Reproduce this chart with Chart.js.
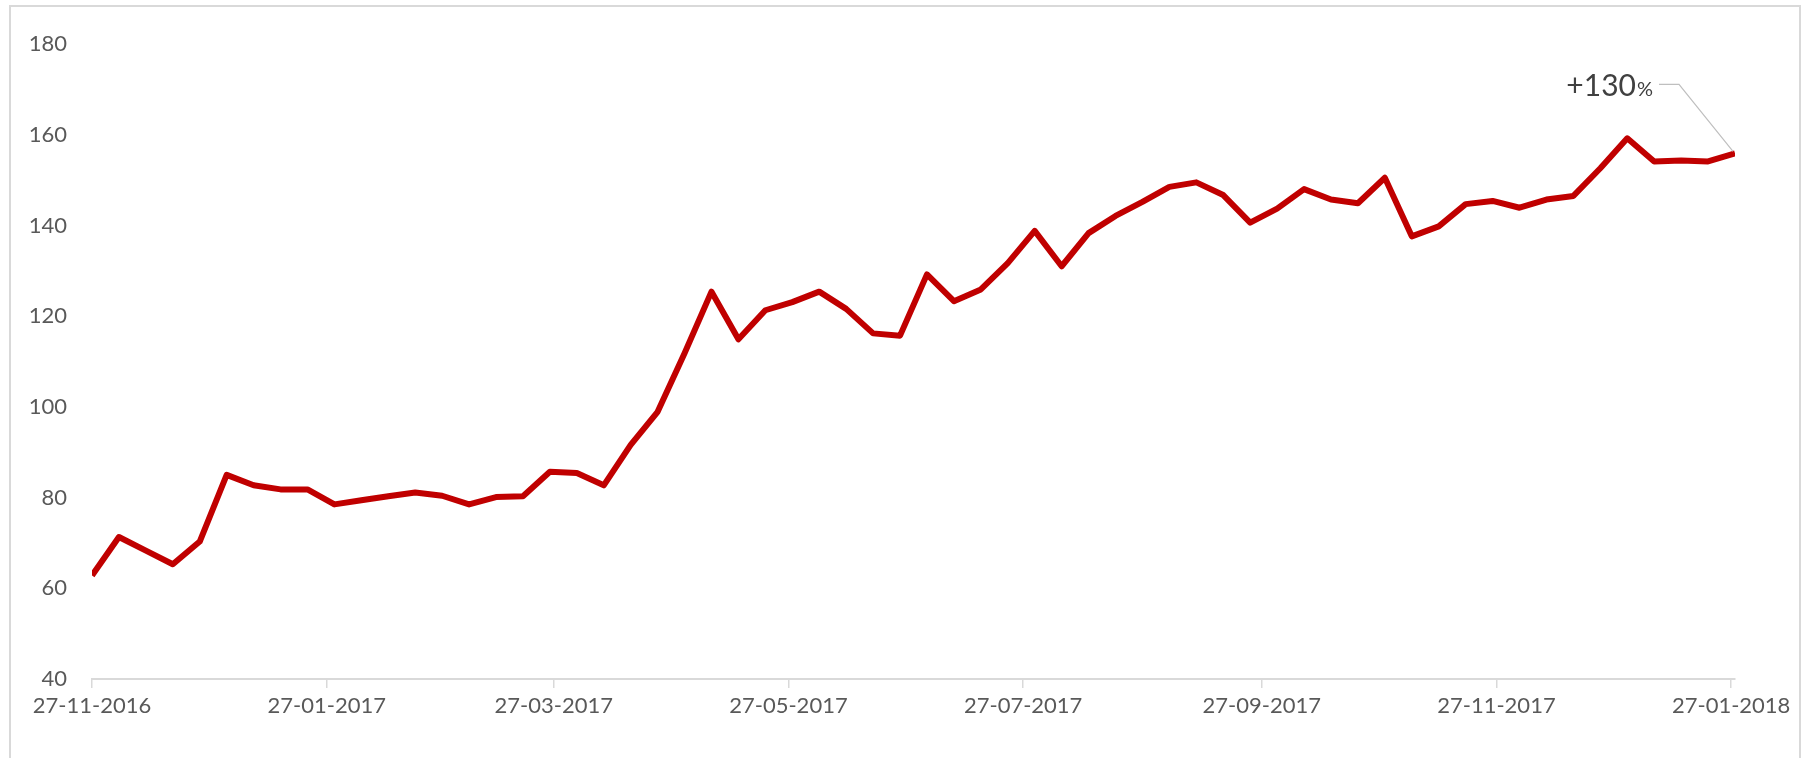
<!DOCTYPE html>
<html>
<head>
<meta charset="utf-8">
<script src="https://cdn.jsdelivr.net/npm/chart.js@4.4.1/dist/chart.umd.min.js"></script>
<style>
html, body { margin: 0; padding: 0; background: #fff; }
#wrap { position: relative; width: 1808px; height: 758px; overflow: hidden; }
#frame { position: absolute; left: 9px; top: 5px; width: 1792px; height: 800px; border: 2px solid #d9d9d9; box-sizing: border-box; }
#chartbox { position: absolute; left: 0; top: 0; width: 1808px; height: 758px; }
</style>
</head>
<body>
<div id="wrap">
  <div id="frame"></div>
  <div id="chartbox"><canvas id="linechart"></canvas></div>
</div>
<script>
// weekly observations
var dates = ['27-11-2016', '04-12-2016', '11-12-2016', '18-12-2016', '25-12-2016', '01-01-2017', '08-01-2017', '15-01-2017',
  '22-01-2017', '29-01-2017', '05-02-2017', '12-02-2017', '19-02-2017', '26-02-2017', '05-03-2017', '12-03-2017',
  '19-03-2017', '26-03-2017', '02-04-2017', '09-04-2017', '16-04-2017', '23-04-2017', '30-04-2017', '07-05-2017',
  '14-05-2017', '21-05-2017', '28-05-2017', '04-06-2017', '11-06-2017', '18-06-2017', '25-06-2017', '02-07-2017',
  '09-07-2017', '16-07-2017', '23-07-2017', '30-07-2017', '06-08-2017', '13-08-2017', '20-08-2017', '27-08-2017',
  '03-09-2017', '10-09-2017', '17-09-2017', '24-09-2017', '01-10-2017', '08-10-2017', '15-10-2017', '22-10-2017',
  '29-10-2017', '05-11-2017', '12-11-2017', '19-11-2017', '26-11-2017', '03-12-2017', '10-12-2017', '17-12-2017',
  '24-12-2017', '31-12-2017', '07-01-2018', '14-01-2018', '21-01-2018', '28-01-2018'];

var values = [62.8, 71.3, 68.3, 65.3, 70.3, 85.0, 82.7, 81.8, 81.8, 78.5,
  79.4, 80.3, 81.1, 80.4, 78.5, 80.1, 80.3, 85.7, 85.4, 82.7,
  91.6, 98.9, 111.8, 125.4, 114.9, 121.3, 123.1, 125.4, 121.6, 116.2,
  115.7, 129.2, 123.3, 125.9, 131.7, 138.8, 131.0, 138.3, 142.1, 145.2,
  148.5, 149.5, 146.7, 140.6, 143.7, 148.0, 145.7, 144.9, 150.5, 137.6,
  139.8, 144.7, 145.4, 143.9, 145.7, 146.5, 152.6, 159.2, 154.1, 154.3,
  154.1, 155.9];

var xTickLabels = ['27-11-2016', '27-01-2017', '27-03-2017', '27-05-2017', '27-07-2017', '27-09-2017', '27-11-2017', '27-01-2018'];
var yTicks = [40, 60, 80, 100, 120, 140, 160, 180];
var endLabel = '+130';
var endLabelUnit = '%';

function dayNum(s) {
  var p = s.split('-');
  return Date.UTC(+p[2], +p[1] - 1, +p[0]) / 86400000;
}

var points = dates.map(function (d, i) { return { x: dayNum(d), y: values[i] }; });
var labelByDay = {};
xTickLabels.forEach(function (t) { labelByDay[dayNum(t)] = t; });

var FONT = 'Lato, "Open Sans", sans-serif';

// leader line + "+130%" next to the last point
var endNote = {
  id: 'endNote',
  afterDatasetsDraw: function (chart) {
    var meta = chart.getDatasetMeta(0);
    var pt = meta.data[meta.data.length - 1];
    var ctx = chart.ctx;
    ctx.save();
    ctx.strokeStyle = '#bfbfbf';
    ctx.lineWidth = 1.2;
    ctx.beginPath();
    ctx.moveTo(pt.x - 76, pt.y - 69);
    ctx.lineTo(pt.x - 56, pt.y - 69);
    ctx.lineTo(pt.x - 2, pt.y - 2);
    ctx.stroke();
    ctx.fillStyle = '#404040';
    ctx.textBaseline = 'alphabetic';
    ctx.textAlign = 'right';
    ctx.font = '20px ' + FONT;
    ctx.fillText(endLabelUnit, pt.x - 82, pt.y - 57);
    var w = ctx.measureText(endLabelUnit).width;
    ctx.font = '30px ' + FONT;
    ctx.fillText(endLabel, pt.x - 83 - w, pt.y - 57);
    ctx.restore();
  }
};

var chart1 = document.getElementById('linechart');
var myChart1 = new Chart(chart1, {
  type: 'line',
  data: {
    datasets: [{
      data: points,
      borderColor: '#c00000',
      borderWidth: 6,
      borderJoinStyle: 'round',
      pointRadius: 0,
      tension: 0,
      fill: false
    }]
  },
  options: {
    responsive: true,
    maintainAspectRatio: false,
    animation: false,
    layout: { padding: { top: 44, right: 73, bottom: 0, left: 0 } },
    plugins: {
      legend: { display: false },
      tooltip: { enabled: false }
    },
    scales: {
      x: {
        type: 'linear',
        min: points[0].x,
        max: points[points.length - 1].x,
        afterBuildTicks: function (scale) {
          scale.ticks = xTickLabels.map(function (t) { return { value: dayNum(t) }; });
        },
        afterFit: function (scale) { scale.height = 79; },
        grid: { drawOnChartArea: false, color: '#d9d9d9', tickLength: 9, lineWidth: 1.5 },
        border: { color: '#d9d9d9', width: 2 },
        ticks: {
          autoSkip: false,
          maxRotation: 0,
          padding: 5,
          color: '#595959',
          font: { family: FONT, size: 22 },
          callback: function (v) { return labelByDay[v] || ''; }
        }
      },
      y: {
        min: 40,
        max: 180,
        afterBuildTicks: function (scale) {
          scale.ticks = yTicks.map(function (v) { return { value: v }; });
        },
        afterFit: function (scale) { scale.width = 92; },
        grid: { display: false, drawTicks: false },
        border: { display: false },
        ticks: {
          padding: 25,
          color: '#595959',
          font: { family: FONT, size: 22 }
        }
      }
    }
  },
  plugins: [endNote]
});
</script>
</body>
</html>
